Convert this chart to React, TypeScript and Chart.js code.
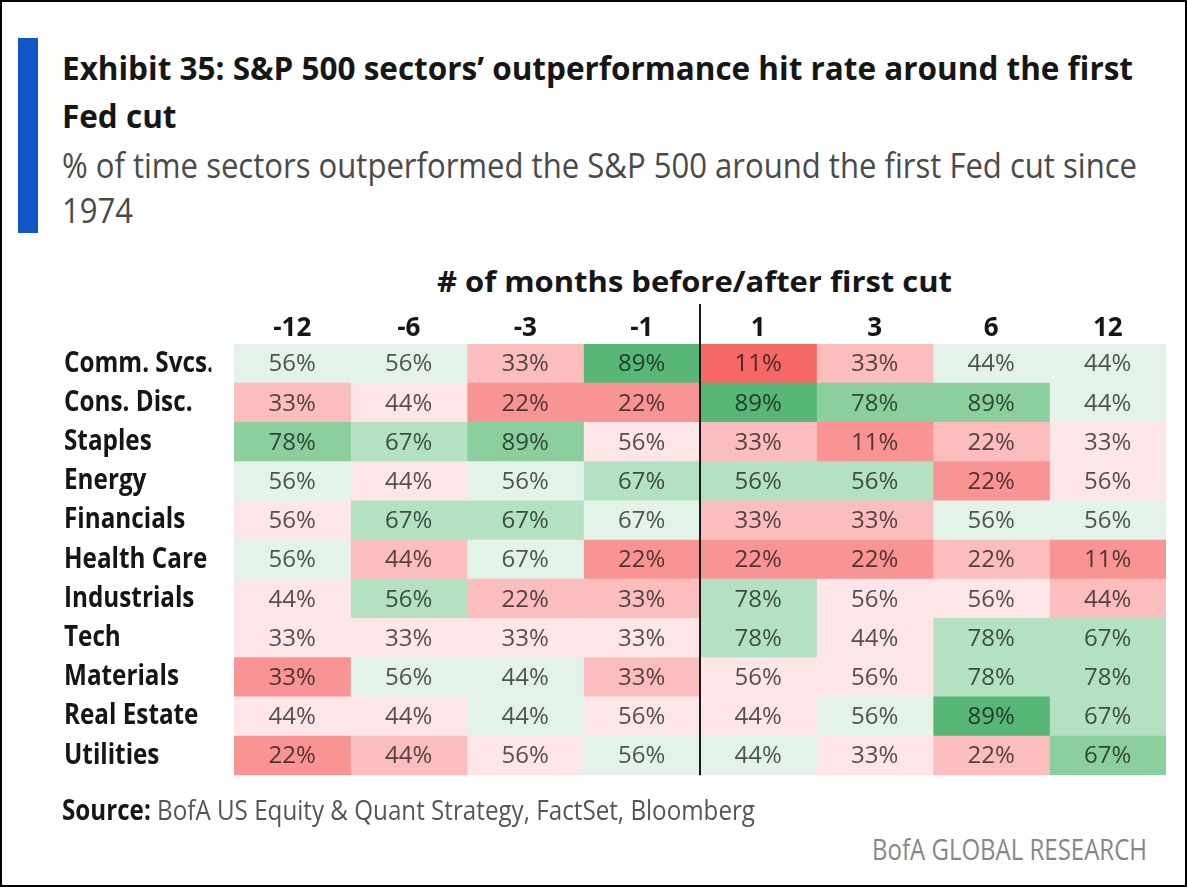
import React, { useEffect, useLayoutEffect, useRef } from 'react';
import { Chart, registerables } from 'chart.js';

Chart.register(...registerables);

const FONT = "'Open Sans', 'Noto Sans', 'DejaVu Sans', sans-serif";

// Row categories (sectors) and column categories (# of months before/after first cut)
const sectors = [
  'Comm. Svcs.', 'Cons. Disc.', 'Staples', 'Energy', 'Financials', 'Health Care',
  'Industrials', 'Tech', 'Materials', 'Real Estate', 'Utilities',
];
const months = ['-12', '-6', '-3', '-1', '1', '3', '6', '12'];

// Hit rates (%) per column, ordered as `sectors`
const before12 = [56, 33, 78, 56, 56, 56, 44, 33, 33, 44, 22];
const before6 = [56, 44, 67, 44, 67, 44, 56, 33, 56, 44, 44];
const before3 = [33, 22, 89, 56, 67, 67, 22, 33, 44, 44, 56];
const before1 = [89, 22, 56, 67, 67, 22, 33, 33, 33, 56, 56];
const after1 = [11, 89, 33, 56, 33, 22, 78, 78, 56, 44, 44];
const after3 = [33, 78, 11, 56, 33, 22, 56, 44, 56, 56, 33];
const after6 = [44, 89, 22, 22, 56, 22, 56, 78, 78, 89, 22];
const after12 = [44, 44, 33, 56, 56, 11, 44, 67, 78, 67, 67];
const hitRates = [before12, before6, before3, before1, after1, after3, after6, after12];

// Shading level of each cell (-4 deep red ... +4 deep green), by sector row
const shadeLevels = [
  [1, 1, -2, 4, -4, -2, 1, 1],
  [-2, -1, -3, -3, 4, 3, 3, 1],
  [3, 2, 3, -1, -2, -3, -2, -1],
  [1, -1, 1, 2, 2, 2, -3, -1],
  [-1, 2, 2, 1, -2, -2, 1, 1],
  [1, -2, 1, -3, -3, -3, -2, -3],
  [-1, 2, -2, -2, 2, -1, -1, -2],
  [-1, -1, -1, -1, 2, -1, 2, 2],
  [-3, 1, 1, -2, -1, -1, 2, 2],
  [-1, -1, 1, -1, -1, 1, 4, 2],
  [-3, -2, -1, 1, 1, -1, -2, 3],
];

const shadeColor: Record<string, string> = {
  '-4': '#f56868',
  '-3': '#f89494',
  '-2': '#fbbdbd',
  '-1': '#fde6e7',
  '1': '#e4f3e9',
  '2': '#b5e1c3',
  '3': '#8ccf9f',
  '4': '#58b777',
};

const ROW_LABEL_FONT = `bold 28px ${FONT}`;
const ROW_LABEL_TARGET = 150; // rendered width of the longest row label

const cellTextPlugin = {
  id: 'cellText',
  afterDatasetsDraw(chart: any) {
    const ctx = chart.ctx;
    ctx.save();
    ctx.globalCompositeOperation = 'multiply';
    ctx.font = `24px ${FONT}`;
    ctx.fillStyle = '#575757';
    ctx.textAlign = 'center';
    ctx.textBaseline = 'middle';
    chart.data.datasets.forEach((ds: any, di: number) => {
      const meta = chart.getDatasetMeta(di);
      meta.data.forEach((el: any, i: number) => {
        const p = el.getProps(['x', 'base', 'y'], true);
        ctx.fillText(`${ds.data[i].v}%`, (p.x + p.base) / 2, p.y + 1);
      });
    });
    ctx.restore();

    const xs = chart.scales.x;
    const px = Math.round(xs.getPixelForValue(4));
    ctx.save();
    ctx.strokeStyle = '#1a1a1a';
    ctx.lineWidth = 2;
    ctx.beginPath();
    ctx.moveTo(px, 2);
    ctx.lineTo(px, chart.chartArea.bottom);
    ctx.stroke();
    ctx.restore();
  },
};

function condenseLabels(s: any) {
  if (s._condensed) return;
  s._condensed = true;
  const orig = s.drawLabels.bind(s);
  s.drawLabels = (area: any) => {
    const ctx = s.ctx;
    ctx.save();
    ctx.font = ROW_LABEL_FONT;
    const w = ctx.measureText(sectors[0]).width;
    const sx = Math.min(1, ROW_LABEL_TARGET / w);
    ctx.translate(s.left, 0);
    ctx.scale(sx, 1);
    ctx.translate(-s.left, 0);
    orig(area);
    ctx.restore();
  };
}

function Heatmap() {
  const ref = useRef<HTMLCanvasElement>(null);
  useEffect(() => {
    if (!ref.current) return;
    const chart = new Chart(ref.current, {
      type: 'bar',
      data: {
        labels: sectors,
        datasets: months.map((m, c) => ({
          label: m,
          data: sectors.map((s, r) => ({ y: s, x: [c, c + 1], v: hitRates[c][r] })),
          backgroundColor: sectors.map((_, r) => shadeColor[String(shadeLevels[r][c])]),
          borderWidth: 0,
          grouped: false,
          barPercentage: 1,
          categoryPercentage: 1,
        })) as any,
      },
      options: {
        indexAxis: 'y',
        animation: false,
        responsive: false,
        events: [],
        layout: { padding: { left: 62, right: 23, top: 0, bottom: 13 } },
        plugins: {
          legend: { display: false },
          tooltip: { enabled: false },
          title: { display: false },
        },
        scales: {
          x: {
            type: 'linear',
            position: 'top',
            min: 0,
            max: 8,
            grid: { display: false, drawTicks: false },
            border: { display: false },
            ticks: {
              autoSkip: false,
              maxRotation: 0,
              padding: 0,
              color: '#151515',
              font: { family: FONT, size: 26, weight: 'bold' },
              callback: (_v: any, i: number) => months[i],
            },
            afterBuildTicks: (s: any) => {
              s.ticks = months.map((_, i) => ({ value: i + 0.5 }));
            },
            afterFit: (s: any) => {
              s.height = 42;
            },
          },
          y: {
            type: 'category',
            grid: { display: false, drawTicks: false },
            border: { display: false },
            ticks: {
              crossAlign: 'far',
              padding: 0,
              color: '#151515',
              font: { family: FONT, size: 28, weight: 'bold' },
            },
            afterFit: (s: any) => {
              s.width = 170;
              condenseLabels(s);
            },
          },
        } as any,
      } as any,
      plugins: [cellTextPlugin],
    });
    return () => chart.destroy();
  }, []);
  return (
    <canvas
      ref={ref}
      width={1187}
      height={490}
      style={{ position: 'absolute', left: 0, top: 300, width: 1187, height: 490 }}
    />
  );
}

// Text block whose first line is squeezed horizontally to a given width
function FitText({ lines, left, top, width, style }: any) {
  const outer = useRef<HTMLDivElement>(null);
  const first = useRef<HTMLSpanElement>(null);
  useLayoutEffect(() => {
    if (!outer.current || !first.current) return;
    const w = first.current.getBoundingClientRect().width;
    if (w > 0) outer.current.style.transform = `scaleX(${width / w})`;
  }, []);
  return (
    <div
      ref={outer}
      style={{
        position: 'absolute', left, top, whiteSpace: 'nowrap', transformOrigin: '0 0',
        ...style,
      }}
    >
      {lines.map((l: any, i: number) => (
        <div key={i}>
          <span ref={i === 0 ? first : undefined} style={{ display: 'inline-block' }}>{l}</span>
        </div>
      ))}
    </div>
  );
}

export default function App() {
  return (
    <div
      style={{
        position: 'fixed',
        left: 0,
        top: 0,
        width: 1187,
        height: 887,
        boxSizing: 'border-box',
        border: '2px solid #000',
        background: '#fff',
        fontFamily: FONT,
        overflow: 'hidden',
      }}
    >
      <div style={{ position: 'absolute', left: 16, top: 36, width: 20, height: 195, background: '#1156c8' }} />
      <FitText
        left={60}
        top={42}
        width={1071}
        lines={['Exhibit 35: S&P 500 sectors’ outperformance hit rate around the first', 'Fed cut']}
        style={{ fontSize: 33, lineHeight: '48px', fontWeight: 'bold', color: '#161616' }}
      />
      <FitText
        left={60}
        top={140}
        width={1075}
        lines={['% of time sectors outperformed the S&P 500 around the first Fed cut since', '1974']}
        style={{ fontSize: 35, lineHeight: '45px', color: '#4a4a4a' }}
      />
      <FitText
        left={435}
        top={262}
        width={515}
        lines={['# of months before/after first cut']}
        style={{ fontSize: 29, lineHeight: '34px', fontWeight: 'bold', color: '#161616' }}
      />
      <Heatmap />
      <FitText
        left={60}
        top={790}
        width={693}
        lines={[
          <>
            <span style={{ fontWeight: 'bold', color: '#161616' }}>Source:</span> BofA US Equity &amp; Quant Strategy, FactSet, Bloomberg
          </>,
        ]}
        style={{ fontSize: 28, lineHeight: '34px', color: '#555' }}
      />
      <FitText
        left={870}
        top={830}
        width={275}
        lines={['BofA GLOBAL RESEARCH']}
        style={{ fontSize: 29, lineHeight: '34px', color: '#878787' }}
      />
    </div>
  );
}
